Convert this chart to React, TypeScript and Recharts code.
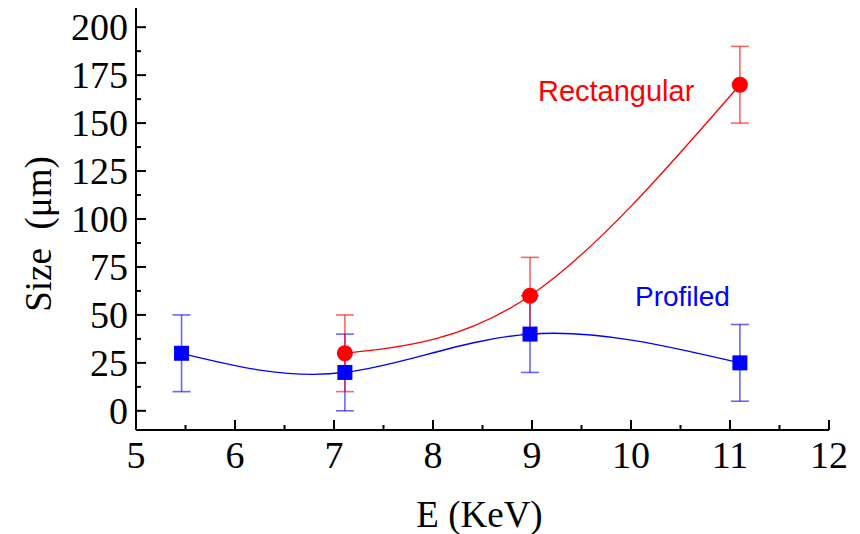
import React from 'react';
import {
  ComposedChart,
  Line,
  XAxis,
  YAxis,
  ErrorBar,
  ReferenceDot,
  Label,
} from 'recharts';

// ---- data ----
const profiledEnergy = [5.46, 7.11, 8.98, 11.1];
const profiledSize = [30, 20, 40, 25];
const profiledError = [20, 20, 20, 20];

const rectEnergy = [7.11, 8.98, 11.1];
const rectSize = [30, 60, 170];
const rectError = [20, 20, 20];

const xTicks = [5, 5.5, 6, 6.5, 7, 7.5, 8, 8.5, 9, 9.5, 10, 10.5, 11, 11.5, 12];
const yTicks = [0, 12.5, 25, 37.5, 50, 62.5, 75, 87.5, 100, 112.5, 125, 137.5, 150, 162.5, 175, 187.5, 200];

const profiledData = profiledEnergy.map((x, i) => ({ x, y: profiledSize[i], err: profiledError[i] }));
const rectData = rectEnergy.map((x, i) => ({ x, y: rectSize[i], err: rectError[i] }));

const SERIF = '"Liberation Serif", "Times New Roman", serif';
const SANS = '"Liberation Sans", Arial, sans-serif';
const TICK_FONT = 38;

const isMajorX = (v: number) => Number.isInteger(v);
const isMajorY = (v: number) => v % 25 === 0;

const BottomTick = (p: any) => {
  const { x, y, payload } = p;
  const major = isMajorX(payload.value);
  return (
    <g>
      <line x1={x} y1={y} x2={x} y2={y - (major ? 10 : 5)} stroke="#000" strokeWidth={2} />
      {major && (
        <text x={x} y={y + 38} textAnchor="middle" fill="#000" fontFamily={SERIF} fontSize={TICK_FONT}>
          {payload.value}
        </text>
      )}
    </g>
  );
};

const TopTick = (p: any) => {
  const { x, y, payload } = p;
  const major = isMajorX(payload.value);
  return <line x1={x} y1={y} x2={x} y2={y + (major ? 10 : 5)} stroke="#000" strokeWidth={2} />;
};

const LeftTick = (p: any) => {
  const { x, y, payload } = p;
  const major = isMajorY(payload.value);
  return (
    <g>
      <line x1={x} y1={y} x2={x + (major ? 10 : 5)} y2={y} stroke="#000" strokeWidth={2} />
      {major && (
        <text x={x - 8} y={y} dy="0.35em" textAnchor="end" fill="#000" fontFamily={SERIF} fontSize={TICK_FONT}>
          {payload.value}
        </text>
      )}
    </g>
  );
};

const RightTick = (p: any) => {
  const { x, y, payload } = p;
  const major = isMajorY(payload.value);
  return <line x1={x} y1={y} x2={x - (major ? 10 : 5)} y2={y} stroke="#000" strokeWidth={2} />;
};

const SquareDot = (p: any) => {
  if (p.cx == null || p.cy == null) return <g key={`s${p.index}`} />;
  return <rect key={`s${p.index}`} x={p.cx - 7.5} y={p.cy - 7.5} width={15} height={15} fill="#0000ff" />;
};

const CircleDot = (p: any) => {
  if (p.cx == null || p.cy == null) return <g key={`c${p.index}`} />;
  return <circle key={`c${p.index}`} cx={p.cx} cy={p.cy} r={8} fill="#ff0000" />;
};

const axisLine = { stroke: '#000', strokeWidth: 2 };

export default function App() {
  return (
    <div style={{ position: 'absolute', left: 0, top: 0, background: '#fff' }}>
      <ComposedChart width={860} height={534} margin={{ top: 8, right: 31, bottom: 0, left: 0 }}>
        <XAxis
          xAxisId="b"
          type="number"
          dataKey="x"
          domain={[5, 12]}
          ticks={xTicks}
          interval={0}
          allowDataOverflow
          height={104}
          tickSize={0}
          tickMargin={0}
          tickLine={false}
          axisLine={axisLine}
          tick={<BottomTick />}
        >
          <Label
            content={(lp: any) => {
              const vb = lp.viewBox || { x: 136, y: 430, width: 693 };
              return (
                <text
                  x={vb.x + vb.width / 2 - 3}
                  y={vb.y + 97}
                  textAnchor="middle"
                  fill="#000"
                  fontFamily={SERIF}
                  fontSize={37}
                >
                  E (KeV)
                </text>
              );
            }}
          />
        </XAxis>
        <XAxis
          xAxisId="t"
          orientation="top"
          type="number"
          dataKey="x"
          domain={[5, 12]}
          ticks={xTicks}
          interval={0}
          allowDataOverflow
          height={0}
          tickSize={0}
          tickMargin={0}
          tickLine={false}
          axisLine={axisLine}
          tick={<TopTick />}
        />
        <YAxis
          yAxisId="l"
          type="number"
          domain={[-10, 210]}
          ticks={yTicks}
          interval={0}
          allowDataOverflow
          width={136}
          tickSize={0}
          tickMargin={0}
          tickLine={false}
          axisLine={axisLine}
          tick={<LeftTick />}
        >
          <Label
            content={() => (
              <text
                x={38}
                y={234}
                transform="rotate(-90 38 234)"
                textAnchor="middle"
                dy="0.35em"
                fill="#000"
                fontFamily={SERIF}
                fontSize={37}
                style={{ whiteSpace: 'pre' }}
              >
                {'Size  (μm)'}
              </text>
            )}
          />
        </YAxis>
        <YAxis
          yAxisId="r"
          orientation="right"
          type="number"
          domain={[-10, 210]}
          ticks={yTicks}
          interval={0}
          allowDataOverflow
          width={0}
          tickSize={0}
          tickMargin={0}
          tickLine={false}
          axisLine={axisLine}
          tick={<RightTick />}
        />

        <Line
          data={profiledData}
          xAxisId="b"
          yAxisId="l"
          dataKey="y"
          type="natural"
          stroke="#0000ff"
          strokeWidth={1.3}
          dot={SquareDot}
          activeDot={false}
          isAnimationActive={false}
        >
          <ErrorBar dataKey="err" direction="y" width={9} stroke="#0000ff" strokeOpacity={0.6} strokeWidth={1.6} />
        </Line>
        <Line
          data={rectData}
          xAxisId="b"
          yAxisId="l"
          dataKey="y"
          type="natural"
          stroke="#ff0000"
          strokeWidth={1.3}
          dot={CircleDot}
          activeDot={false}
          isAnimationActive={false}
        >
          <ErrorBar dataKey="err" direction="y" width={9} stroke="#ff0000" strokeOpacity={0.6} strokeWidth={1.6} />
        </Line>

        <ReferenceDot
          xAxisId="b"
          yAxisId="l"
          x={9.85}
          y={167}
          r={0}
          fill="none"
          stroke="none"
          label={{ value: 'Rectangular', position: 'center', fill: '#ff0000', fontSize: 29, fontFamily: SANS }}
        />
        <ReferenceDot
          xAxisId="b"
          yAxisId="l"
          x={10.52}
          y={60}
          r={0}
          fill="none"
          stroke="none"
          label={{ value: 'Profiled', position: 'center', fill: '#0000ff', fontSize: 28, fontFamily: SANS }}
        />
      </ComposedChart>
    </div>
  );
}
